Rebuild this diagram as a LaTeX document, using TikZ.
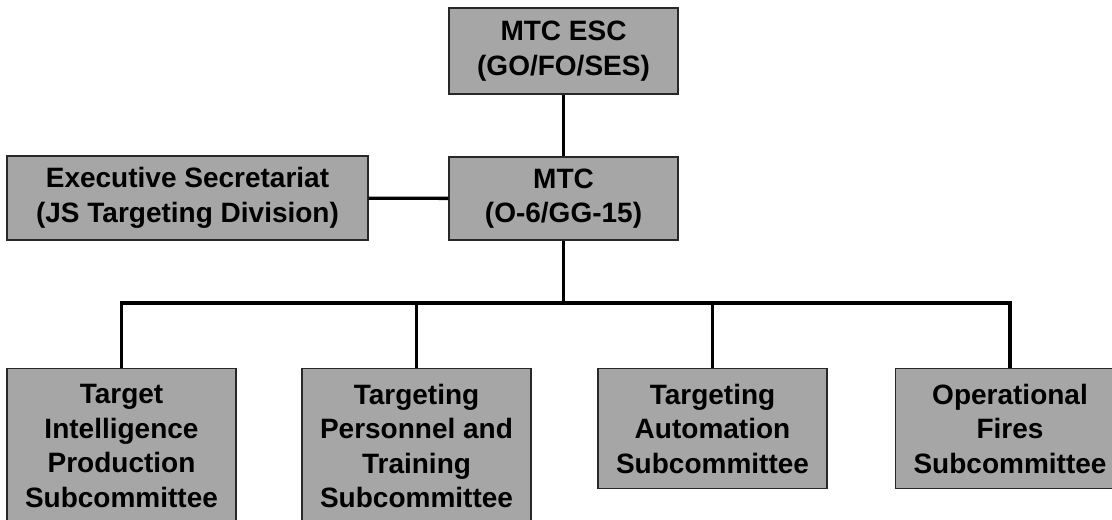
\documentclass[tikz,border=0pt]{standalone}
\usepackage{fontspec}
\setmainfont{Liberation Sans}
\usepackage{xcolor}
\definecolor{boxgray}{RGB}{166,166,166}
\definecolor{edgegray}{RGB}{40,40,40}
\usetikzlibrary{positioning}
\tikzset{
  unit/.style={
    draw=edgegray, line width=1.1pt, fill=boxgray,
    font=\bfseries\fontsize{21}{25.9}\selectfont,
    align=center, inner sep=0pt,
    minimum width=171.75pt},
  subunit/.style={unit, anchor=north, minimum height=90pt},
  link/.style={line width=2.5pt, line join=miter}
}
\begin{document}
\begin{tikzpicture}[x=0.75pt,y=-0.75pt]
    \useasboundingbox (0,0) rectangle (1112,520);
    \clip (0,0) rectangle (1112,520);
    \node[unit,minimum height=64.5pt](esc) at (563.5,51) {MTC ESC\\(GO/FO/SES)};
    \node[unit,minimum height=62.25pt](mtc) at (563.5,198.5) {MTC\\(O-6/GG-15)};
    \node[unit,minimum height=63pt,minimum width=270.75pt](exec) at (187.5,198) {Executive Secretariat\\(JS Targeting Division)};
    \coordinate (bus) at (563.5,303);
    % subcommittees
    \node[subunit,minimum height=115.9pt](tip) at (121.5,368) {Target\\Intelligence\\Production\\Subcommittee};
    \node[subunit,minimum height=115.9pt](tpt) at (416.5,368) {Targeting\\Personnel and\\Training\\Subcommittee};
    \node[subunit](ta) at (712.5,368) {Targeting\\Automation\\Subcommittee};
    \node[subunit](of) at (1010,368) {Operational\\Fires\\Subcommittee};
    \draw[link] (esc) -- (mtc);
    \draw[link] (exec) -- (mtc);
    \draw[link] (mtc) -- (bus);
    \draw[link] (tip.north) |- (bus) -| (of.north);
    \foreach \n in {tpt,ta}
        \draw[link] (\n.north) -- (\n.north |- bus);
\end{tikzpicture}
\end{document}
